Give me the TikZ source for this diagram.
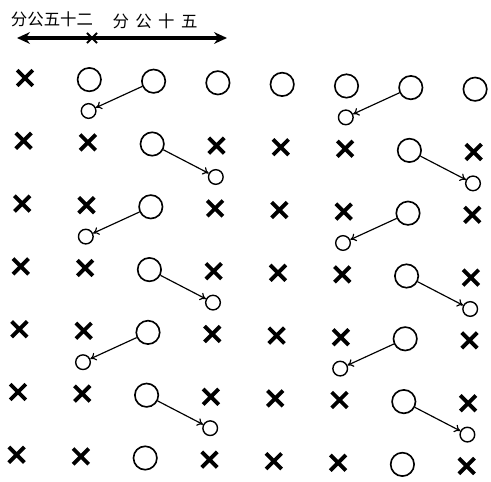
\documentclass[tikz,border=0pt]{standalone}
\usepackage{fontspec}
\newfontfamily\cjk{Noto Sans CJK SC}
\usetikzlibrary{shapes.misc,arrows.meta}
\tikzset{
  big/.style={circle,draw,line width=1.4pt,minimum size=20pt,inner sep=0pt},
  small/.style={circle,draw,line width=1.2pt,minimum size=12.5pt,inner sep=0pt},
  mark x/.style={cross out,draw,line width=3.3pt,minimum size=10pt,inner sep=0pt},
  tick x/.style={cross out,draw,line width=1.6pt,minimum size=7pt,inner sep=0pt},
  shift arrow/.style={-{To[length=5pt,width=7pt]},line width=1pt},
  label cjk/.style={font=\cjk\fontsize{14}{14}\selectfont,inner sep=0pt},
}
\begin{document}
\begin{tikzpicture}[x=0.03cm,y=-0.03cm]
            \useasboundingbox (0,0) rectangle (491,482);
            \coordinate (L) at (17,38);
            \coordinate (R) at (227,38);
            \node[tick x] (M) at (92,38) {};
            \draw[{Stealth[length=11pt,width=10pt]}-{Stealth[length=11pt,width=10pt]},line width=2.6pt] (L)--(R);
            \node[label cjk] (lab1) at (52,19) {分公五十二};
            \node[label cjk] (lab2) at (155,21) {分\hspace{5.5pt}公\hspace{5.5pt}十\hspace{5.5pt}五};
            \foreach \r in {0,...,6}
                \foreach \c in {0,...,7} {
                    \pgfmathsetmacro\px{25+64.3*\c-1.4*\r}
                    \pgfmathsetmacro\py{78+62.8*\r+1.6*\c}
                    \pgfmathtruncatemacro\isbig{(\r==0 && \c>0) || \c==2 || \c==6}
                    \ifnum\isbig=1
                        \node[big] (p-\r-\c) at (\px,\py) {};
                    \else
                        \node[mark x] (p-\r-\c) at (\px,\py) {};
                    \fi
                }
            \foreach \r in {0,...,5} {
                \pgfmathtruncatemacro\dc{ifthenelse(mod(\r,2)==0,-1,1)}
                \foreach \c in {2,6} {
                    \pgfmathsetmacro\qx{25+64.3*(\c+\dc)-1.4*(\r+0.5)}
                    \pgfmathsetmacro\qy{78+62.8*(\r+0.5)+1.6*(\c+\dc)}
                    \node[small] (s-\r-\c) at (\qx,\qy) {};
                    \draw[shift arrow] (p-\r-\c)--(s-\r-\c);
                }
            }
        \end{tikzpicture}
\end{document}
